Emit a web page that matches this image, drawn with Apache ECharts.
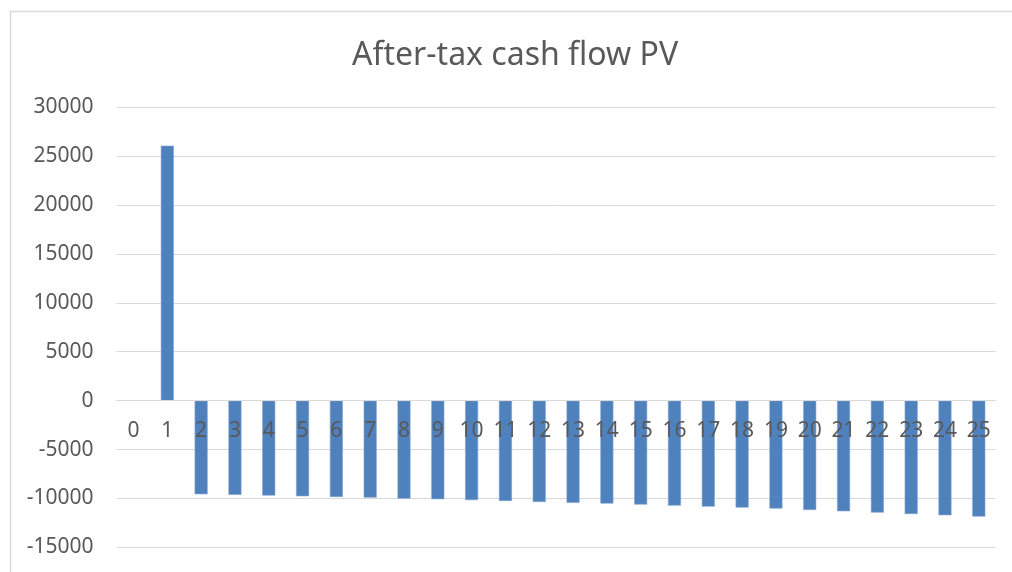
<!DOCTYPE html>
<html>
<head>
<meta charset="utf-8">
<script src="https://cdn.jsdelivr.net/npm/echarts@6/dist/echarts.min.js"></script>
<style>
html,body{margin:0;padding:0;background:#fff;}
#chart{width:1012px;height:572px;}
</style>
</head>
<body>
<div id="chart"></div>
<script>
const titleText = 'After-tax cash flow PV';
const categories = ['0','1','2','3','4','5','6','7','8','9','10','11','12','13','14','15','16','17','18','19','20','21','22','23','24','25'];
const values = [null, 26070, -9570, -9640, -9710, -9780, -9850, -9920, -10020, -10080, -10180, -10260, -10360, -10460, -10530, -10630, -10740, -10840, -10940, -11040, -11180, -11310, -11450, -11590, -11720, -11860];
const yMin = -15000, yMax = 30000, yStep = 5000;

const chart = echarts.init(document.getElementById('chart'));
const font = 'Noto Sans';
const gridTop = 107.3, gridBottom = 24.7, plotH = 572 - gridTop - gridBottom;
const zeroOffset = plotH * (0 - yMin) / (yMax - yMin);
chart.setOption({
  animation: false,
  backgroundColor: '#ffffff',
  graphic: [{
    type: 'rect', left: 8, top: 9,
    shape: {width: 1020, height: 580},
    style: {fill: 'none', stroke: '#d9d9d9', lineWidth: 1.5}
  }],
  title: {
    text: titleText, left: 347, top: 35,
    textStyle: {fontFamily: font, fontSize: 32, fontWeight: 'normal', color: '#595959'}
  },
  grid: {left: 116.6, right: 16.3, top: gridTop, bottom: gridBottom, containLabel: false, outerBoundsMode: 'none'},
  xAxis: {
    type: 'category', data: categories, position: 'bottom', offset: -zeroOffset, z: 10,
    axisLine: {show: true, onZero: false, lineStyle: {color: '#d9d9d9', width: 1}},
    axisTick: {show: false},
    axisLabel: {fontFamily: font, fontSize: 21, color: '#595959', margin: 20, interval: 0}
  },
  yAxis: {
    type: 'value', min: yMin, max: yMax, interval: yStep,
    axisLine: {show: false}, axisTick: {show: false},
    splitLine: {lineStyle: {color: '#d9d9d9', width: 1}},
    axisLabel: {fontFamily: font, fontSize: 21, color: '#595959', margin: 23, formatter: v => String(v)}
  },
  series: [{
    type: 'bar', data: values, barWidth: 13, z: 2,
    itemStyle: {color: '#4f81bd', borderColor: '#7fa3d1', borderWidth: 0.6}
  }]
});
</script>
</body>
</html>
